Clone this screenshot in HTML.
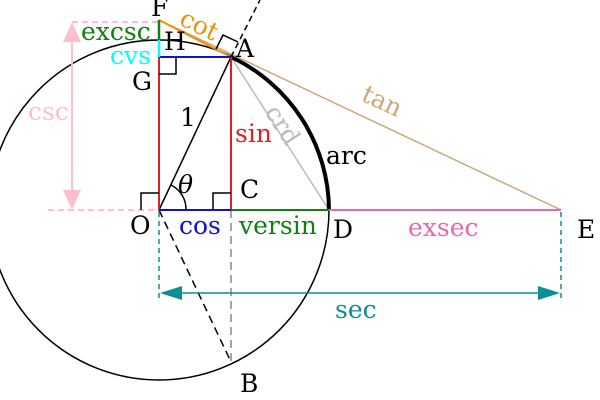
<!DOCTYPE html>
<html><head><meta charset="utf-8"><style>body{margin:0;background:#fff}svg{display:block}text{font-family:"DejaVu Serif","Liberation Serif",serif;font-size:25px}</style></head>
<body><svg width="600" height="400" viewBox="0 0 600 400" font-size="25">
<circle cx="159" cy="210" r="170" fill="none" stroke="#000" stroke-width="1.5"/>
<line x1="72" y1="22" x2="159" y2="22" stroke="pink" stroke-width="2" stroke-dasharray="6,4"/>
<line x1="48" y1="210" x2="159" y2="210" stroke="pink" stroke-width="2" stroke-dasharray="6,4"/>
<line x1="72" y1="38" x2="72" y2="194" stroke="pink" stroke-width="2"/>
<polygon points="72,22 63,42 81,42" fill="pink"/>
<polygon points="72,210 63,190 81,190" fill="pink"/>
<text x="28" y="120" fill="pink" font-size="25">csc</text>
<line x1="159" y1="20" x2="561" y2="210" stroke="#c8a878" stroke-width="1.5"/>
<line x1="159" y1="20" x2="231" y2="57" stroke="#f0900a" stroke-width="2"/>
<line x1="231" y1="57" x2="260" y2="0" stroke="#000" stroke-width="1.5" stroke-dasharray="6,4"/>
<line x1="159" y1="210" x2="231" y2="362" stroke="#000" stroke-width="1.5" stroke-dasharray="8,5"/>
<line x1="231" y1="210" x2="231" y2="362" stroke="#888" stroke-width="1.5" stroke-dasharray="8,5"/>
<line x1="159" y1="212" x2="159" y2="302" stroke="#0a9090" stroke-width="1.5" stroke-dasharray="5,4"/>
<line x1="561" y1="212" x2="561" y2="302" stroke="#0a9090" stroke-width="1.5" stroke-dasharray="5,4"/>
<line x1="175" y1="293" x2="545" y2="293" stroke="#0a9090" stroke-width="1.5"/>
<polygon points="160,293 182,286 182,300" fill="#0a9090"/>
<polygon points="560,293 538,286 538,300" fill="#0a9090"/>
<text x="335" y="318" fill="#0a9090" font-size="25">sec</text>
<line x1="159" y1="210" x2="231" y2="57" stroke="#000" stroke-width="1.5"/>
<line x1="231" y1="57" x2="329" y2="210" stroke="#bbb" stroke-width="1.5"/>
<path d="M231,57 A170,170 0 0 1 329,210" fill="none" stroke="#000" stroke-width="4"/>
<line x1="159" y1="57" x2="159" y2="210" stroke="#e02020" stroke-width="2"/>
<line x1="231" y1="57" x2="231" y2="210" stroke="#e02020" stroke-width="2"/>
<line x1="159" y1="57" x2="231" y2="57" stroke="#1010d0" stroke-width="2"/>
<line x1="159" y1="210" x2="231" y2="210" stroke="#1010d0" stroke-width="2"/>
<line x1="231" y1="210" x2="329" y2="210" stroke="#108010" stroke-width="2"/>
<line x1="329" y1="210" x2="561" y2="210" stroke="#e868b0" stroke-width="2"/>
<line x1="159" y1="20" x2="159" y2="40" stroke="#108010" stroke-width="2.5"/>
<line x1="159" y1="40" x2="159" y2="57" stroke="cyan" stroke-width="2.5"/>
<polyline points="159,74 176,74 176,57" fill="none" stroke="#000" stroke-width="1.5"/>
<polyline points="141,210 141,193 159,193" fill="none" stroke="#000" stroke-width="1.5"/>
<polyline points="213,210 213,193 231,193" fill="none" stroke="#000" stroke-width="1.5"/>
<polyline points="216,49 223,35 238,42" fill="none" stroke="#000" stroke-width="1.5"/>
<path d="M171,185 A27,27 0 0 1 186,210" fill="none" stroke="#000" stroke-width="1.5"/>
<text x="151" y="16" font-size="25">F</text>
<text x="81" y="40" fill="#108010" font-size="25">excsc</text>
<text x="110" y="64" fill="cyan" font-size="25">cvs</text>
<text x="164" y="50" font-size="25">H</text>
<text x="132" y="90" font-size="25">G</text>
<text x="236" y="57" font-size="25">A</text>
<text x="180" y="126" font-size="25">1</text>
<text x="235" y="142" fill="#e02020" font-size="25">sin</text>
<text x="178" y="193" font-style="italic" font-size="25">θ</text>
<text x="240" y="198" font-size="25">C</text>
<text x="130" y="234" font-size="25">O</text>
<text x="179" y="234" fill="#1010d0" font-size="25">cos</text>
<text x="239" y="234" fill="#108010" font-size="25">versin</text>
<text x="333" y="238" font-size="25">D</text>
<text x="408" y="236" fill="#e868b0" font-size="25">exsec</text>
<text x="577" y="238" font-size="25">E</text>
<text x="240" y="392" font-size="25">B</text>
<text x="326" y="164" font-size="25">arc</text>
<text x="0" y="0" fill="#bbb" font-size="25" transform="translate(264,112) rotate(57)">crd</text>
<text x="0" y="0" fill="#c8a878" font-size="25" transform="translate(360,100) rotate(25)">tan</text>
<text x="0" y="0" fill="#f0900a" font-size="25" transform="translate(178,24) rotate(26)">cot</text>
</svg></body></html>
